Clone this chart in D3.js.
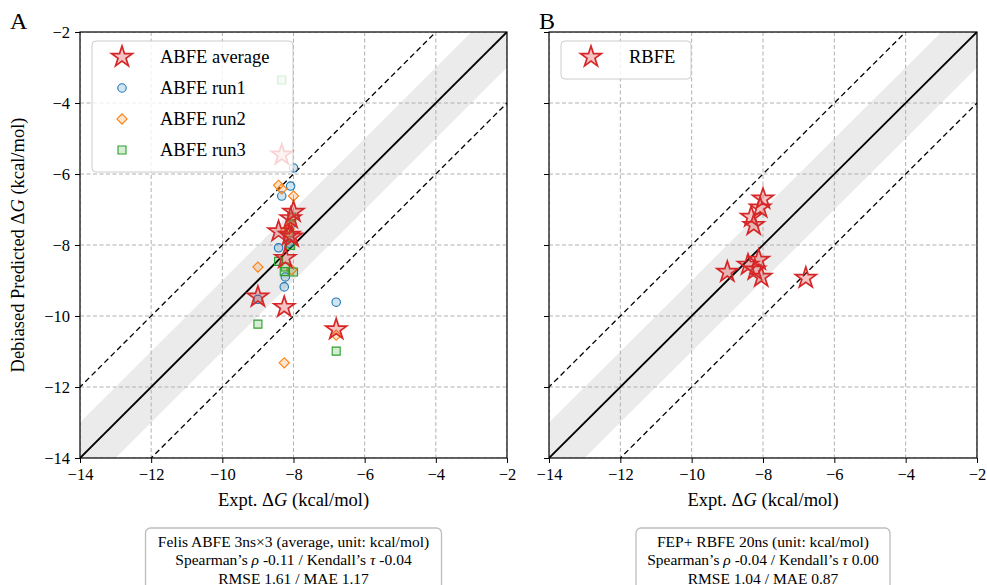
<!DOCTYPE html>
<html>
<head>
<meta charset="utf-8">
<script src="https://cdn.jsdelivr.net/npm/d3@7"></script>
<style>
  body { margin: 0; background: #fff; }
  svg { display: block; }
  text { font-family: "Liberation Serif", "DejaVu Serif", serif; fill: #000; }
</style>
</head>
<body>
<svg id="chart" width="987" height="585"></svg>
<script>
// Experimental binding free energies (kcal/mol), one per compound
const exptDG      = [-9.00, -6.80, -8.42, -8.33, -8.26, -8.23, -8.12, -8.08, -8.05, -8.00];
// Felis ABFE: three independent runs and their average (debiased, kcal/mol)
const abfeRun1    = [-9.53, -9.61, -8.08, -6.62, -9.18, -8.90, -7.95, -6.34, -7.40, -5.83];
const abfeRun2    = [-8.62, -10.54, -6.32, -6.42, -11.32, -7.60, -7.55, -7.40, -8.70, -6.62];
const abfeRun3    = [-10.23, -10.99, -8.46, -3.35, -8.75, -8.62, -7.66, -8.01, -7.21, -8.76];
const abfeAverage = [-9.46, -10.38, -7.62, -5.46, -9.75, -8.37, -7.72, -7.25, -7.77, -7.07];
// FEP+ RBFE predictions (debiased, kcal/mol)
const rbfePred    = [-8.76, -8.93, -8.56, -7.21, -7.44, -8.70, -8.42, -6.95, -8.90, -6.70];

const axisTicks = [-14, -12, -10, -8, -6, -4, -2];
const axisDomain = [-14, -2];

const statsA = [
  "Felis ABFE 3ns\u00d73 (average, unit: kcal/mol)",
  "Spearman\u2019s \u03c1 -0.11 / Kendall\u2019s \u03c4 -0.04",
  "RMSE 1.61 / MAE 1.17"
];
const statsB = [
  "FEP+ RBFE 20ns (unit: kcal/mol)",
  "Spearman\u2019s \u03c1 -0.04 / Kendall\u2019s \u03c4 0.00",
  "RMSE 1.04 / MAE 0.87"
];

const RED = "#d62728", BLUE = "#1f77b4", ORANGE = "#ff7f0e", GREEN = "#2ca02c";

const svg = d3.select("#chart");
const fmt = v => String(v).replace("-", "\u2212");

const styles = {
  star:    { type: d3.symbolStar,   size: 134, rot: 0,  color: RED,    fillOp: 0.28, sw: 1.7 },
  circle:  { type: d3.symbolCircle, size: 56,  rot: 0,  color: BLUE,   fillOp: 0.2, sw: 1.1 },
  diamond: { type: d3.symbolSquare, size: 52,  rot: 45, color: ORANGE, fillOp: 0.2, sw: 1.1 },
  square:  { type: d3.symbolSquare, size: 64,  rot: 0,  color: GREEN,  fillOp: 0.2, sw: 1.1 }
};

function marker(g, st, x, y) {
  return g.append("path")
    .attr("d", d3.symbol().type(st.type).size(st.size)())
    .attr("transform", `translate(${x},${y}) rotate(${st.rot})`)
    .attr("fill", st.color).attr("fill-opacity", st.fillOp)
    .attr("stroke", st.color).attr("stroke-width", st.sw);
}

function panel(opts) {
  const x = d3.scaleLinear().domain(axisDomain).range([opts.left, opts.right]);
  const y = d3.scaleLinear().domain(axisDomain).range([458, 32]);
  const g = svg.append("g");

  const clipId = "clip" + opts.name;
  svg.append("clipPath").attr("id", clipId).append("rect")
    .attr("x", opts.left).attr("y", 32)
    .attr("width", opts.right - opts.left).attr("height", 426);
  const plot = g.append("g").attr("clip-path", `url(#${clipId})`);

  // +/- 1 kcal/mol band around the identity line
  const band = d3.area().x(d => x(d)).y0(d => y(d - 1)).y1(d => y(d + 1));
  plot.append("path").datum([-16, 0]).attr("d", band).attr("fill", "#ebebeb");

  // grid
  axisTicks.forEach(t => {
    plot.append("line").attr("x1", x(t)).attr("x2", x(t)).attr("y1", 32).attr("y2", 458)
      .attr("stroke", "#b0b0b0").attr("stroke-width", 1).attr("stroke-dasharray", "4,2.5");
    plot.append("line").attr("y1", y(t)).attr("y2", y(t)).attr("x1", opts.left).attr("x2", opts.right)
      .attr("stroke", "#b0b0b0").attr("stroke-width", 1).attr("stroke-dasharray", "4,2.5");
  });

  // +/- 2 kcal/mol guides and identity line
  const line = d3.line().x(d => x(d[0])).y(d => y(d[1]));
  [-2, 2].forEach(off => {
    plot.append("path").datum([[-16, -16 + off], [0, off]]).attr("d", line)
      .attr("fill", "none").attr("stroke", "#000").attr("stroke-width", 1.3)
      .attr("stroke-dasharray", "5.5,3.5");
  });
  plot.append("path").datum([[-16, -16], [0, 0]]).attr("d", line)
    .attr("fill", "none").attr("stroke", "#000").attr("stroke-width", 1.9);

  // data markers
  opts.series.forEach(s => {
    s.values.forEach((v, i) => marker(plot, styles[s.style], x(exptDG[i]), y(v)));
  });

  // axes
  const xAxis = d3.axisBottom(x).tickValues(axisTicks).tickFormat(fmt).tickSize(5).tickPadding(5);
  const yAxis = d3.axisLeft(y).tickValues(axisTicks).tickFormat(opts.yLabels ? fmt : () => "").tickSize(5).tickPadding(5);
  const gx = g.append("g").attr("transform", "translate(0,458)").call(xAxis);
  const gy = g.append("g").attr("transform", `translate(${opts.left},0)`).call(yAxis);
  [gx, gy].forEach(a => {
    a.select(".domain").remove();
    a.selectAll(".tick line").attr("stroke", "#000").attr("stroke-width", 1);
    a.selectAll(".tick text").style("font-family", '"Liberation Serif", serif').style("font-size", "16.5px").attr("fill", "#000");
  });

  // frame
  g.append("rect").attr("x", opts.left).attr("y", 32)
    .attr("width", opts.right - opts.left).attr("height", 426)
    .attr("fill", "none").attr("stroke", "#000").attr("stroke-width", 1.2);

  // x label
  const cx = (opts.left + opts.right) / 2;
  const xl = g.append("text").attr("x", cx).attr("y", 506).attr("text-anchor", "middle").style("font-size", "18.5px");
  xl.append("tspan").text("Expt. \u0394");
  xl.append("tspan").attr("font-style", "italic").text("G");
  xl.append("tspan").text(" (kcal/mol)");

  // panel letter
  g.append("text").attr("x", opts.letterX).attr("y", 29)
    .style("font-size", "24px").text(opts.name);

  // legend
  const lg = g.append("g");
  lg.append("rect").attr("x", opts.left + 12).attr("y", 41)
    .attr("width", opts.legendW).attr("height", 12 + 31 * opts.series.length - 5)
    .attr("rx", 4).attr("fill", "#fff").attr("fill-opacity", 0.8)
    .attr("stroke", "#cccccc").attr("stroke-width", 1);
  opts.series.slice().sort((a, b) => a.legendOrder - b.legendOrder).forEach((s, k) => {
    const yy = 57 + 31 * k;
    marker(lg, styles[s.style], opts.left + 42, yy);
    lg.append("text").attr("x", opts.left + 80).attr("y", yy + 6).style("font-size", "18.5px").text(s.label);
  });

  // statistics box
  const bw = opts.boxW, bx = cx - bw / 2;
  g.append("rect").attr("x", bx).attr("y", 528).attr("width", bw).attr("height", 70)
    .attr("rx", 5).attr("fill", "#fff").attr("stroke", "#bdbdbd").attr("stroke-width", 1.3);
  opts.stats.forEach((t, k) => {
    const tx = g.append("text").attr("x", cx).attr("y", 546.5 + 18.5 * k)
      .attr("text-anchor", "middle").style("font-size", "15.5px");
    // Greek symbols set in italic like math text
    t.split(/([\u03c1\u03c4])/).forEach(part => {
      if (!part) return;
      const sp = tx.append("tspan").text(part);
      if (part === "\u03c1" || part === "\u03c4") sp.attr("font-style", "italic");
    });
  });
}

panel({
  name: "A", left: 80, right: 507, letterX: 10, yLabels: true, legendW: 201, boxW: 296, stats: statsA,
  series: [
    { label: "ABFE run1", style: "circle", values: abfeRun1, legendOrder: 1 },
    { label: "ABFE run2", style: "diamond", values: abfeRun2, legendOrder: 2 },
    { label: "ABFE run3", style: "square", values: abfeRun3, legendOrder: 3 },
    { label: "ABFE average", style: "star", values: abfeAverage, legendOrder: 0 }
  ]
});

panel({
  name: "B", left: 549, right: 977, letterX: 539, yLabels: false, legendW: 130, boxW: 254, stats: statsB,
  series: [
    { label: "RBFE", style: "star", values: rbfePred, legendOrder: 0 }
  ]
});

// shared y label
const yl = svg.append("text").attr("transform", "translate(24,245) rotate(-90)")
  .attr("text-anchor", "middle").style("font-size", "18.5px");
yl.append("tspan").text("Debiased Predicted \u0394");
yl.append("tspan").attr("font-style", "italic").text("G");
yl.append("tspan").text(" (kcal/mol)");
</script>
</body>
</html>
